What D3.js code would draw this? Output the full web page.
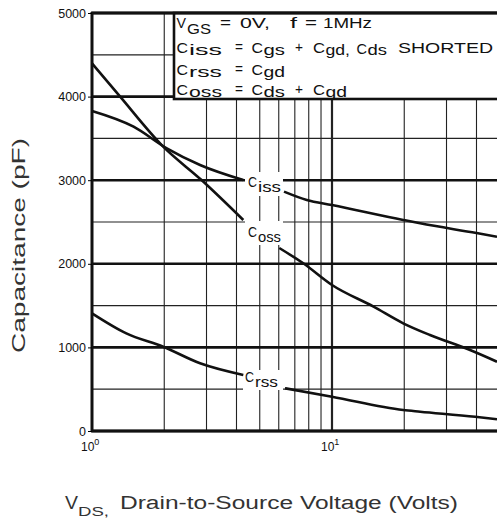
<html>
<head>
<script src="https://d3js.org/d3.v7.min.js"></script>
<style>
  body { margin: 0; background: #fff; }
  text { font-family: "Liberation Sans", Arial, sans-serif; fill: #111; }
</style>
</head>
<body>
<svg id="chart" width="497" height="519"></svg>
<script>
// ---- data (VDS in volts, capacitance in pF) ----
var cissVds1 = [1, 1.49, 2.05, 2.82, 4.27];
var cissPf1  = [3828, 3640, 3381, 3182, 3002];
var cissVds2 = [6.31, 7.85, 10, 19.8, 23.3, 40, 48.7];
var cissPf2  = [2863, 2763, 2703, 2524, 2484, 2368, 2324];

var cossVds1 = [1, 1.31, 1.98, 2.86, 4.27];
var cossPf1  = [4398, 3999, 3401, 3002, 2524];
var cossVds2 = [6.03, 7.59, 10, 14.9, 19.8, 25.6, 37.6, 48.7];
var cossPf2  = [2189, 2006, 1746, 1487, 1288, 1148, 969, 829];

var crssVds1 = [1, 1.39, 1.98, 2.82, 4.27];
var crssPf1  = [1408, 1168, 1008, 810, 670];
var crssVds2 = [6.37, 10, 19.8, 23.3, 39.5, 48.7];
var crssPf2  = [511, 410, 251, 231, 171, 140];

var yTicks = [0, 1000, 2000, 3000, 4000, 5000];
var yMinor = [500, 1500, 2500, 3500, 4500];
var xGrid  = [2, 3, 4, 5, 6, 7, 8, 9, 10, 20, 30, 40];
var xTicks = [1, 10];

var svg = d3.select("#chart");

var x = d3.scaleLog().domain([1, 50]).range([92, 92 + 240 * Math.log10(50)]);
var y = d3.scaleLinear().domain([0, 5000]).range([431, 13]);

// grid
svg.selectAll(".hminor").data(yMinor).enter().append("line")
  .attr("x1", 92).attr("x2", 497)
  .attr("y1", function (d) { return y(d); }).attr("y2", function (d) { return y(d); })
  .attr("stroke", "#222").attr("stroke-width", 1.2);

svg.selectAll(".vgrid").data(xGrid).enter().append("line")
  .attr("x1", function (d) { return x(d); }).attr("x2", function (d) { return x(d); })
  .attr("y1", 13).attr("y2", 431)
  .attr("stroke", "#222")
  .attr("stroke-width", function (d) { return d == 10 ? 2.2 : 1.1; });

svg.selectAll(".hmajor").data(yTicks).enter().append("line")
  .attr("x1", 92).attr("x2", 497)
  .attr("y1", function (d) { return y(d); }).attr("y2", function (d) { return y(d); })
  .attr("stroke", "#111").attr("stroke-width", 2.6);

// white gaps behind curve labels
var gaps = [[245, 172, 38, 24], [245, 221, 38, 24], [243, 370, 40, 20]];
svg.selectAll(".gap").data(gaps).enter().append("rect")
  .attr("x", function (d) { return d[0]; }).attr("y", function (d) { return d[1]; })
  .attr("width", function (d) { return d[2]; }).attr("height", function (d) { return d[3]; })
  .attr("fill", "#fff");

// curves
var line = d3.line()
  .x(function (d) { return x(d[0]); })
  .y(function (d) { return y(d[1]); })
  .curve(d3.curveMonotoneX);

var segs = [
  [cissVds1, cissPf1], [cissVds2, cissPf2],
  [cossVds1, cossPf1], [cossVds2, cossPf2],
  [crssVds1, crssPf1], [crssVds2, crssPf2]
];
segs.forEach(function (s) {
  svg.append("path")
    .attr("d", line(d3.zip(s[0], s[1])))
    .attr("fill", "none").attr("stroke", "#111").attr("stroke-width", 2.6);
});

// curve labels
var curveLabels = [["C", "iss", 248, 187], ["C", "oss", 248, 237], ["C", "rss", 245, 382]];
curveLabels.forEach(function (c) {
  var t = svg.append("text").attr("x", c[2]).attr("y", c[3]).style("font-size", "15px");
  t.append("tspan").text(c[0]).attr("textLength", 9).attr("lengthAdjust", "spacingAndGlyphs");
  t.append("tspan").text(c[1]).attr("x", c[2] + 10).attr("dy", 5)
    .attr("textLength", 23).attr("lengthAdjust", "spacingAndGlyphs");
});

// legend box
svg.append("rect").attr("x", 174).attr("y", 13).attr("width", 330).attr("height", 86)
  .attr("fill", "#fff").attr("stroke", "#111").attr("stroke-width", 2.6);

// legend text: [text, x start, x end, baseline shift]
var legendLines = [
  { y: 28, parts: [["V", 176.5, 186, 0], ["GS", 187, 211, 6], ["=", 220, 231, 0], ["0V,", 240, 270, 0],
                   ["f", 290, 297, 0], ["=", 305, 317, 0], ["1MHz", 323, 372, 0]] },
  { y: 53, parts: [["C", 176.5, 188, 0], ["iss", 189, 222, 2], ["=", 235, 243, -1], ["C", 251.5, 263, 0],
                   ["gs", 263.5, 285, 2], ["+", 295, 303, -1], ["C", 313, 325, 0], ["gd,", 325.5, 350, 2],
                   ["C", 356.5, 367, 1], ["ds", 367.5, 387, 2], ["SHORTED", 398, 493, 0]] },
  { y: 75, parts: [["C", 176.5, 188, 0], ["rss", 189, 222, 2], ["=", 235, 243, -1], ["C", 251.5, 263, 0],
                   ["gd", 263.5, 285, 2]] },
  { y: 95, parts: [["C", 176.5, 188, 0], ["oss", 189, 222, 2], ["=", 235, 243, -1], ["C", 251.5, 263, 0],
                   ["ds", 263.5, 285, 2], ["+", 295, 303, -1], ["C", 313, 325, 0], ["gd", 325.5, 347, 2]] }
];
legendLines.forEach(function (l) {
  l.parts.forEach(function (p) {
    svg.append("text")
      .attr("x", p[1]).attr("y", l.y + p[3])
      .attr("textLength", p[2] - p[1]).attr("lengthAdjust", "spacingAndGlyphs")
      .style("font-size", "14.5px")
      .text(p[0]);
  });
});

// frame
svg.append("line").attr("x1", 92).attr("x2", 92).attr("y1", 12).attr("y2", 432)
  .attr("stroke", "#111").attr("stroke-width", 3);
svg.append("line").attr("x1", 91).attr("x2", 497).attr("y1", 431).attr("y2", 431)
  .attr("stroke", "#111").attr("stroke-width", 3);
svg.append("line").attr("x1", 91).attr("x2", 497).attr("y1", 13).attr("y2", 13)
  .attr("stroke", "#111").attr("stroke-width", 3);

// y axis labels
var yAxis = d3.axisLeft(y).tickValues(yTicks).tickSize(4).tickPadding(2).tickFormat(d3.format("d"));
var gy = svg.append("g").attr("transform", "translate(92,0)").call(yAxis);
gy.select(".domain").remove();
gy.selectAll("text").style("font-size", "12.5px").style("font-family", "'Liberation Sans', Arial, sans-serif")
  .attr("fill", "#111");

// x axis labels 10^n
xTicks.forEach(function (v) {
  var t = svg.append("text").attr("x", x(v) - 11).attr("y", 451).style("font-size", "12px");
  t.append("tspan").text("10");
  t.append("tspan").text(Math.round(Math.log10(v))).attr("dy", -6).style("font-size", "9px");
});

// axis titles
svg.append("text")
  .attr("transform", "translate(25,245.5) rotate(-90)")
  .attr("text-anchor", "middle")
  .attr("textLength", 215).attr("lengthAdjust", "spacingAndGlyphs")
  .style("font-size", "19px").style("fill", "#333")
  .text("Capacitance (pF)");

var xt = svg.append("g");
xt.append("text").attr("x", 65).attr("y", 509).style("font-size", "18px").style("fill", "#333")
  .attr("textLength", 13).attr("lengthAdjust", "spacingAndGlyphs").text("V");
xt.append("text").attr("x", 78).attr("y", 516).style("font-size", "12px").style("fill", "#333")
  .attr("textLength", 31).attr("lengthAdjust", "spacingAndGlyphs").text("DS,");
xt.append("text").attr("x", 120).attr("y", 509).style("font-size", "18px").style("fill", "#333")
  .attr("textLength", 338).attr("lengthAdjust", "spacingAndGlyphs")
  .text("Drain-to-Source Voltage (Volts)");
</script>
</body>
</html>
